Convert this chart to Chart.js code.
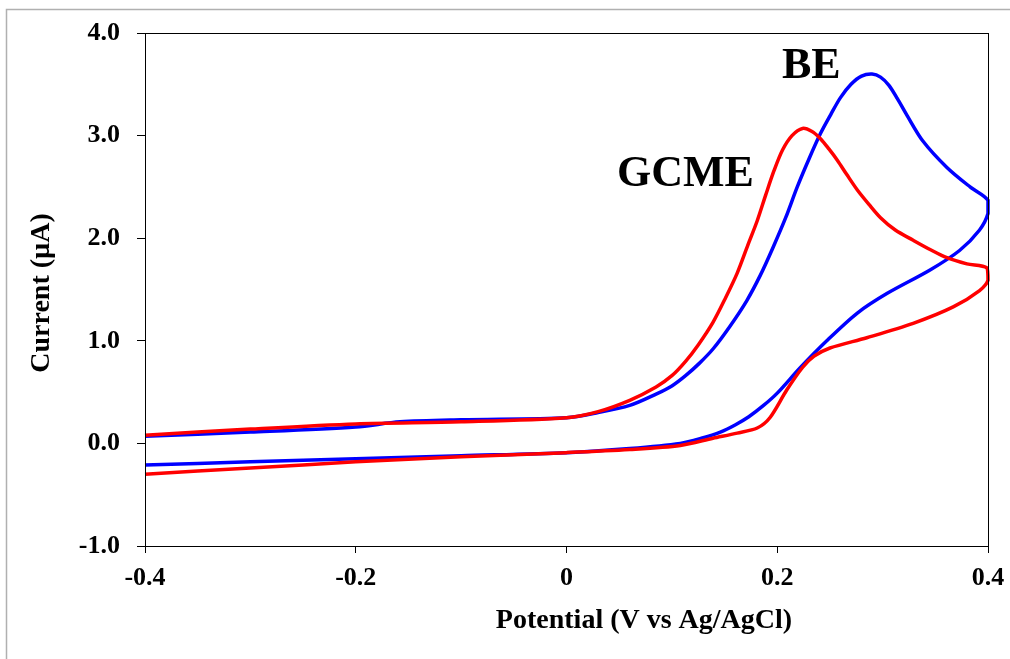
<!DOCTYPE html>
<html>
<head>
<meta charset="utf-8">
<script src="https://cdn.jsdelivr.net/npm/chart.js@4"></script>
<style>
  html, body { margin: 0; padding: 0; background: #fff; }
  #wrap { width: 1010px; height: 659px; position: relative; }
</style>
</head>
<body>
<div id="wrap"><canvas id="myChart" width="1010" height="659"></canvas></div>
<script>
// GCME loop: forward (anodic) scan then reverse scan
const gcmePotential = [-0.4, -0.3, -0.2, -0.1, 0.0, 0.03, 0.06, 0.085, 0.1, 0.113, 0.125, 0.139, 0.151, 0.162, 0.172,
  0.181, 0.189, 0.197, 0.205, 0.214, 0.224, 0.233, 0.241, 0.249, 0.257, 0.266, 0.276, 0.287, 0.298, 0.312,
  0.329, 0.345, 0.361, 0.38, 0.399, 0.4, 0.392, 0.367, 0.329, 0.285, 0.25, 0.235, 0.224, 0.209, 0.193,
  0.181, 0.162, 0.139, 0.108, 0.06, 0.0, -0.1, -0.2, -0.3, -0.4];
const gcmeCurrent = [0.08, 0.14, 0.19, 0.21, 0.25, 0.31, 0.42, 0.55, 0.66, 0.8, 0.96, 1.18, 1.42, 1.66, 1.93,
  2.17, 2.42, 2.66, 2.86, 3.0, 3.07, 3.04, 2.97, 2.87, 2.76, 2.62, 2.47, 2.33, 2.2, 2.08,
  1.98, 1.89, 1.81, 1.75, 1.71, 1.59, 1.49, 1.33, 1.17, 1.03, 0.93, 0.85, 0.74, 0.52, 0.25,
  0.15, 0.1, 0.05, -0.02, -0.06, -0.09, -0.13, -0.18, -0.24, -0.3];

// BE loop
const bePotential = [-0.4, -0.3, -0.2, -0.158, -0.1, 0.0, 0.03, 0.06, 0.085, 0.1, 0.113, 0.126, 0.139, 0.155, 0.171,
  0.184, 0.196, 0.208, 0.219, 0.23, 0.241, 0.251, 0.26, 0.27, 0.28, 0.29, 0.298, 0.306, 0.314, 0.323,
  0.338, 0.361, 0.383, 0.4, 0.4, 0.392, 0.373, 0.345, 0.304, 0.276, 0.247, 0.222,
  0.2, 0.187, 0.173, 0.16, 0.146, 0.128, 0.108, 0.06, 0.0, -0.1, -0.2, -0.3, -0.4];
const beCurrent = [0.07, 0.11, 0.16, 0.21, 0.23, 0.25, 0.3, 0.37, 0.48, 0.56, 0.66, 0.78, 0.92, 1.14, 1.39,
  1.64, 1.91, 2.2, 2.5, 2.77, 3.02, 3.21, 3.37, 3.5, 3.58, 3.6, 3.57, 3.49, 3.36, 3.2,
  2.95, 2.69, 2.5, 2.37, 2.24, 2.08, 1.88, 1.69, 1.46, 1.27, 1.0, 0.74,
  0.49, 0.37, 0.26, 0.18, 0.11, 0.05, 0.0, -0.05, -0.09, -0.12, -0.15, -0.18, -0.21];

const xTicks = [-0.4, -0.2, 0, 0.2, 0.4];
const yTicks = [-1, 0, 1, 2, 3, 4];

const serif = "'Liberation Serif', 'Times New Roman', serif";

function pts(xs, ys) {
  return xs.map((x, i) => ({ x: x, y: ys[i] }));
}

// frame, plot box, axis titles and curve labels
const decor = {
  id: "decor",
  beforeDraw(chart) {
    const c = chart.ctx;
    c.save();
    c.strokeStyle = "#b0b0b0";
    c.lineWidth = 1.5;
    c.beginPath();
    c.moveTo(6.5, 659);
    c.lineTo(6.5, 9.5);
    c.lineTo(1010, 9.5);
    c.stroke();
    c.restore();
  },
  afterDraw(chart) {
    const c = chart.ctx;
    const a = chart.chartArea;
    const sx = chart.scales.x, sy = chart.scales.y;
    c.save();
    c.strokeStyle = "#000";
    c.lineWidth = 1;
    c.strokeRect(Math.round(a.left) + 0.5, Math.round(a.top) + 0.5, Math.round(a.right - a.left), Math.round(a.bottom - a.top));

    c.fillStyle = "#000";
    c.font = "bold 28px " + serif;
    c.textAlign = "center";
    c.textBaseline = "alphabetic";
    c.fillText("Potential (V vs Ag/AgCl)", 644, 628);

    c.translate(42, 293);
    c.rotate(-Math.PI / 2);
    c.textBaseline = "middle";
    c.fillText("Current (\u00b5A)", 0, 0);
    c.restore();

    c.save();
    c.fillStyle = "#000";
    c.font = "bold 44px " + serif;
    c.textAlign = "left";
    c.textBaseline = "alphabetic";
    c.fillText("BE", sx.getPixelForValue(0.2045), sy.getPixelForValue(3.56));
    c.fillText("GCME", sx.getPixelForValue(0.048), sy.getPixelForValue(2.51));
    c.restore();
  }
};

const config = {
  type: "scatter",
  data: {
    datasets: [
      {
        label: "GCME",
        data: pts(gcmePotential, gcmeCurrent),
        showLine: true,
        borderColor: "rgb(255, 0, 0)",
        backgroundColor: "rgb(255, 0, 0)",
        borderWidth: 3.5,
        pointRadius: 0,
        tension: 0.3,
        clip: false
      },
      {
        label: "BE",
        data: pts(bePotential, beCurrent),
        showLine: true,
        borderColor: "rgb(0, 0, 255)",
        backgroundColor: "rgb(0, 0, 255)",
        borderWidth: 3.5,
        pointRadius: 0,
        tension: 0.3,
        clip: false
      }
    ]
  },
  options: {
    responsive: false,
    animation: false,
    layout: { padding: { top: 33, right: 22, left: 0, bottom: 0 } },
    plugins: { legend: { display: false }, tooltip: { enabled: false } },
    scales: {
      x: {
        type: "linear",
        min: -0.4,
        max: 0.4,
        afterBuildTicks: (s) => { s.ticks = xTicks.map((v) => ({ value: v })); },
        afterFit: (s) => { s.height = 113; s.paddingLeft = 0; s.paddingRight = 0; },
        border: { display: false },
        grid: { drawOnChartArea: false, drawTicks: true, tickLength: 7, color: "#000" },
        ticks: {
          color: "#000",
          padding: 10,
          maxRotation: 0,
          font: { family: serif, size: 26, weight: "bold" },
          callback: (v) => (Math.abs(v) < 1e-9 ? "0" : v.toFixed(1))
        }
      },
      y: {
        type: "linear",
        min: -1,
        max: 4,
        afterBuildTicks: (s) => { s.ticks = yTicks.map((v) => ({ value: v })); },
        afterFit: (s) => { s.width = 145; s.paddingTop = 0; s.paddingBottom = 0; },
        border: { display: false },
        grid: { drawOnChartArea: false, drawTicks: true, tickLength: 8, color: "#000" },
        ticks: {
          color: "#000",
          padding: 17,
          font: { family: serif, size: 26, weight: "bold" },
          callback: (v) => v.toFixed(1)
        }
      }
    }
  },
  plugins: [decor]
};

const myChart = new Chart(document.getElementById("myChart"), config);
</script>
</body>
</html>
